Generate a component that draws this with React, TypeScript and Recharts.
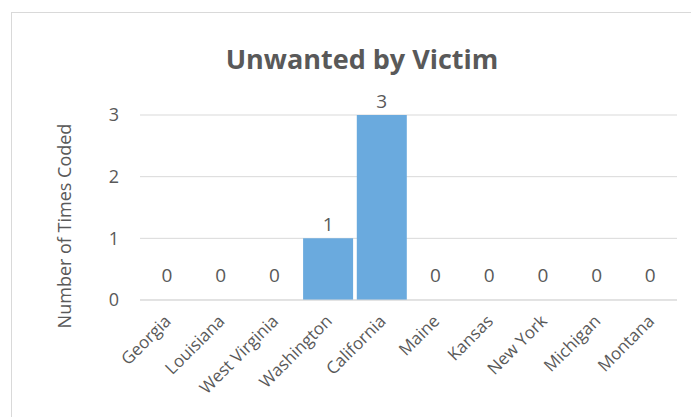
import React from "react"
import { BarChart, Bar, XAxis, YAxis, CartesianGrid, LabelList } from "recharts"

const states = [
  "Georgia",
  "Louisiana",
  "West Virginia",
  "Washington",
  "California",
  "Maine",
  "Kansas",
  "New York",
  "Michigan",
  "Montana",
]
const timesCoded = [0, 0, 0, 1, 3, 0, 0, 0, 0, 0]
const yTicks = [0, 1, 2, 3]

const FONT = "'Open Sans', sans-serif"
const TEXT = "#595959"

function StateTick(props: any) {
  const { x, y, payload } = props
  return (
    <g transform={`translate(${x + 1},${y + 18})`}>
      <text
        x={0}
        y={0}
        dy="0.35em"
        textAnchor="end"
        transform="rotate(-45)"
        fill={TEXT}
        fontSize={17}
        fontFamily={FONT}
      >
        {payload.value}
      </text>
    </g>
  )
}

function ValueLabel(props: any) {
  const { x, y, width, value } = props
  const lift = String(value) === "0" ? 18 : 7
  return (
    <text
      x={x + width / 2}
      y={y - lift}
      textAnchor="middle"
      fill={TEXT}
      fontSize={19}
      fontFamily={FONT}
    >
      {value}
    </text>
  )
}

function AxisTitle() {
  return (
    <text
      x={52}
      y={213}
      transform="rotate(-90 52 213)"
      textAnchor="middle"
      dominantBaseline="central"
      fill={TEXT}
      fontSize={18}
      fontFamily={FONT}
    >
      Number of Times Coded
    </text>
  )
}

export default function App() {
  const data = states.map((name, i) => ({
    name,
    value: timesCoded[i],
    label: String(timesCoded[i]),
  }))

  return (
    <div
      style={{
        position: "relative",
        marginLeft: 3,
        marginTop: 4,
        width: 702,
        height: 406,
        border: "1px solid #d9d9d9",
        boxSizing: "border-box",
        background: "#fff",
      }}
    >
      <div
        style={{
          position: "absolute",
          top: 27,
          left: 0,
          width: "100%",
          textAlign: "center",
          fontFamily: FONT,
          fontWeight: 700,
          fontSize: 27,
          color: TEXT,
        }}
      >
        Unwanted by Victim
      </div>
      <BarChart
        width={700}
        height={404}
        data={data}
        margin={{ top: 102, right: 35, left: 0, bottom: 0 }}
        barCategoryGap={2}
      >
        <CartesianGrid vertical={false} stroke="#d9d9d9" />
        <XAxis
          dataKey="name"
          height={117}
          interval={0}
          tick={<StateTick />}
          tickLine={false}
          tickSize={0}
          tickMargin={0}
          axisLine={{ stroke: "#d9d9d9" }}
        />
        <YAxis
          width={128}
          domain={[0, 3]}
          ticks={yTicks}
          axisLine={false}
          tickLine={false}
          tickSize={0}
          tickMargin={21}
          tick={{ fill: TEXT, fontSize: 18, fontFamily: FONT }}
          label={<AxisTitle />}
        />
        <Bar dataKey="value" fill="#6aaade" minPointSize={0.01} isAnimationActive={false}>
          <LabelList dataKey="label" content={<ValueLabel />} />
        </Bar>
      </BarChart>
    </div>
  )
}
